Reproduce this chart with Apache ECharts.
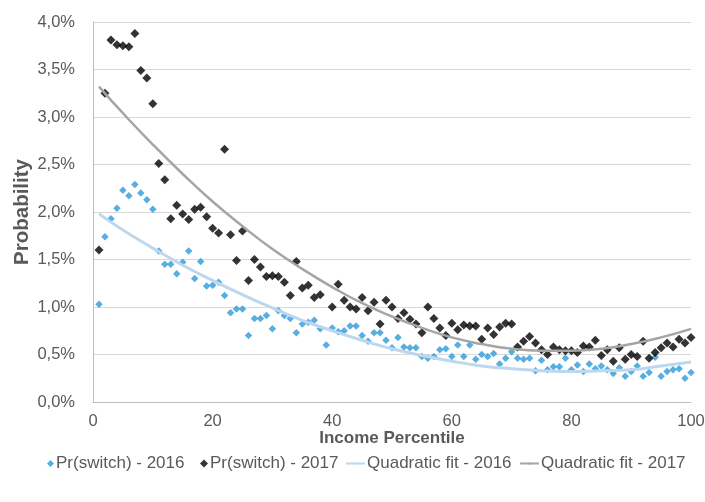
<!DOCTYPE html>
<html>
<head>
<meta charset="utf-8">
<script src="https://cdn.jsdelivr.net/npm/echarts@6/dist/echarts.min.js"></script>
<style>
  html, body { margin: 0; padding: 0; background: #ffffff; }
  #chart { width: 705px; height: 502px; }
</style>
</head>
<body>
<div id="chart"></div>
<script>
// Income percentiles 1..100
const percentiles = [
  1,2,3,4,5,6,7,8,9,10,11,12,13,14,15,16,17,18,19,20,
  21,22,23,24,25,26,27,28,29,30,31,32,33,34,35,36,37,38,39,40,
  41,42,43,44,45,46,47,48,49,50,51,52,53,54,55,56,57,58,59,60,
  61,62,63,64,65,66,67,68,69,70,71,72,73,74,75,76,77,78,79,80,
  81,82,83,84,85,86,87,88,89,90,91,92,93,94,95,96,97,98,99,100
];

// Probability of switching (%) by percentile, 2016
const prSwitch2016 = [
  1.03,1.74,1.93,2.04,2.23,2.17,2.29,2.20,2.13,2.03,
  1.59,1.45,1.45,1.35,1.47,1.59,1.30,1.48,1.22,1.23,
  1.26,1.12,0.94,0.98,0.98,0.70,0.88,0.88,0.91,0.77,
  0.96,0.91,0.88,0.73,0.82,0.84,0.86,0.77,0.60,0.78,
  0.74,0.75,0.80,0.80,0.70,0.64,0.73,0.73,0.65,0.57,
  0.68,0.58,0.57,0.57,0.48,0.46,0.48,0.55,0.56,0.48,
  0.60,0.48,0.60,0.45,0.50,0.48,0.51,0.40,0.46,0.53,
  0.46,0.45,0.46,0.33,0.44,0.34,0.37,0.37,0.46,0.34,
  0.39,0.32,0.40,0.35,0.38,0.34,0.30,0.36,0.27,0.32,
  0.38,0.27,0.31,0.47,0.27,0.32,0.34,0.35,0.25,0.31
];

// Probability of switching (%) by percentile, 2017 (null = no value)
const prSwitch2017 = [
  1.60,3.25,3.81,3.76,3.75,3.74,3.88,3.49,3.41,3.14,
  2.51,2.34,1.93,2.07,1.98,1.92,2.03,2.05,1.95,1.83,
  1.78,2.66,1.76,1.49,1.80,1.28,1.50,1.42,1.32,1.33,
  1.32,1.26,1.12,1.48,1.20,1.23,1.10,1.13,null,1.00,
  1.24,1.07,1.00,0.98,1.10,0.96,1.05,0.82,1.07,1.00,
  0.88,0.94,0.87,0.82,0.73,1.00,0.88,0.78,0.70,0.83,
  0.76,0.81,0.80,0.80,0.66,0.78,0.71,0.79,0.83,0.82,
  0.58,0.64,0.69,0.62,0.55,0.50,0.58,0.55,0.54,0.54,
  0.52,0.59,0.58,0.65,0.49,0.55,0.43,0.57,0.45,0.50,
  0.48,0.64,0.46,0.52,0.57,0.62,0.58,0.66,0.62,0.68
];

// Quadratic trend curves, sampled along the percentile axis
const fitX = [1,5,10,15,20,25,30,35,40,45,50,55,60,65,70,75,80,85,90,95,100];
const fit2016 = [1.98,1.81,1.62,1.44,1.28,1.13,0.99,0.86,0.75,0.65,0.56,0.49,0.43,0.38,0.35,0.33,0.32,0.33,0.34,0.38,0.42];
const fit2017 = [3.32,3.04,2.71,2.40,2.11,1.85,1.61,1.40,1.21,1.04,0.90,0.78,0.68,0.61,0.56,0.54,0.54,0.56,0.61,0.68,0.77];

// Axis ticks
const xTicks = { min: 0, max: 100, step: 20 };
const yTicks = { min: 0, max: 4, step: 0.5 };

const seriesNames = ['Pr(switch) - 2016', 'Pr(switch) - 2017', 'Quadratic fit - 2016', 'Quadratic fit - 2017'];

const FONT = "'Liberation Sans', Arial, sans-serif";
const TXT = '#595959';

function pairs(xs, ys) {
  const out = [];
  xs.forEach((x, i) => { if (ys[i] !== null && ys[i] !== undefined) out.push([x, ys[i]]); });
  return out;
}

const chart = echarts.init(document.getElementById('chart'), null, { renderer: 'canvas' });

function legendAt(left, name, icon, w, h) {
  return {
    left: left, top: 455, padding: 0,
    itemWidth: w, itemHeight: h,
    data: [icon ? { name: name, icon: icon } : { name: name }],
    selectedMode: false,
    textStyle: { fontFamily: FONT, fontSize: 17, color: TXT, padding: [0, 0, 0, -3] }
  };
}

chart.setOption({
  backgroundColor: '#ffffff',
  animation: false,
  grid: { left: 93, right: 14, top: 22, bottom: 100, containLabel: false, outerBoundsMode: 'none' },
  legend: [
    legendAt(47, seriesNames[0], 'diamond', 7, 7),
    legendAt(200, seriesNames[1], 'diamond', 8, 8),
    legendAt(345, seriesNames[2], null, 19, 3),
    legendAt(519, seriesNames[3], null, 19, 3)
  ],
  xAxis: {
    type: 'value',
    min: xTicks.min, max: xTicks.max, interval: xTicks.step,
    name: 'Income Percentile',
    nameLocation: 'middle',
    nameGap: 28,
    nameMoveOverlap: false,
    nameTextStyle: { fontFamily: FONT, fontSize: 17, fontWeight: 'bold', color: TXT },
    axisLine: { show: true, lineStyle: { color: '#bfbfbf', width: 1 } },
    axisTick: { show: false },
    axisLabel: { fontFamily: FONT, fontSize: 16.5, color: TXT, margin: 11 },
    splitLine: { show: false }
  },
  yAxis: {
    type: 'value',
    min: yTicks.min, max: yTicks.max, interval: yTicks.step,
    name: 'Probability',
    nameLocation: 'middle',
    nameGap: 60,
    nameMoveOverlap: false,
    nameTextStyle: { fontFamily: FONT, fontSize: 20.5, fontWeight: 'bold', color: TXT },
    axisLine: { show: true, lineStyle: { color: '#bfbfbf', width: 1 } },
    axisTick: { show: false },
    axisLabel: {
      fontFamily: FONT, fontSize: 16.5, color: TXT, margin: 18,
      formatter: v => v.toFixed(1).replace('.', ',') + '%'
    },
    splitLine: { show: true, lineStyle: { color: '#d9d9d9', width: 1 } }
  },
  series: [
    {
      name: seriesNames[0], type: 'scatter',
      symbol: 'diamond', symbolSize: 7.5,
      itemStyle: { color: '#2e9ad9' },
      data: pairs(percentiles, prSwitch2016), z: 2
    },
    {
      name: seriesNames[1], type: 'scatter',
      symbol: 'diamond', symbolSize: 9,
      itemStyle: { color: '#000000' },
      data: pairs(percentiles, prSwitch2017), z: 3
    },
    {
      name: seriesNames[2], type: 'line',
      symbol: 'none', smooth: true,
      lineStyle: { color: '#bdd7ee', width: 3 },
      itemStyle: { color: '#bdd7ee' },
      data: pairs(fitX, fit2016), z: 4
    },
    {
      name: seriesNames[3], type: 'line',
      symbol: 'none', smooth: true,
      lineStyle: { color: '#a5a5a5', width: 2.5 },
      itemStyle: { color: '#a5a5a5' },
      data: pairs(fitX, fit2017), z: 5
    }
  ]
});
</script>
</body>
</html>
